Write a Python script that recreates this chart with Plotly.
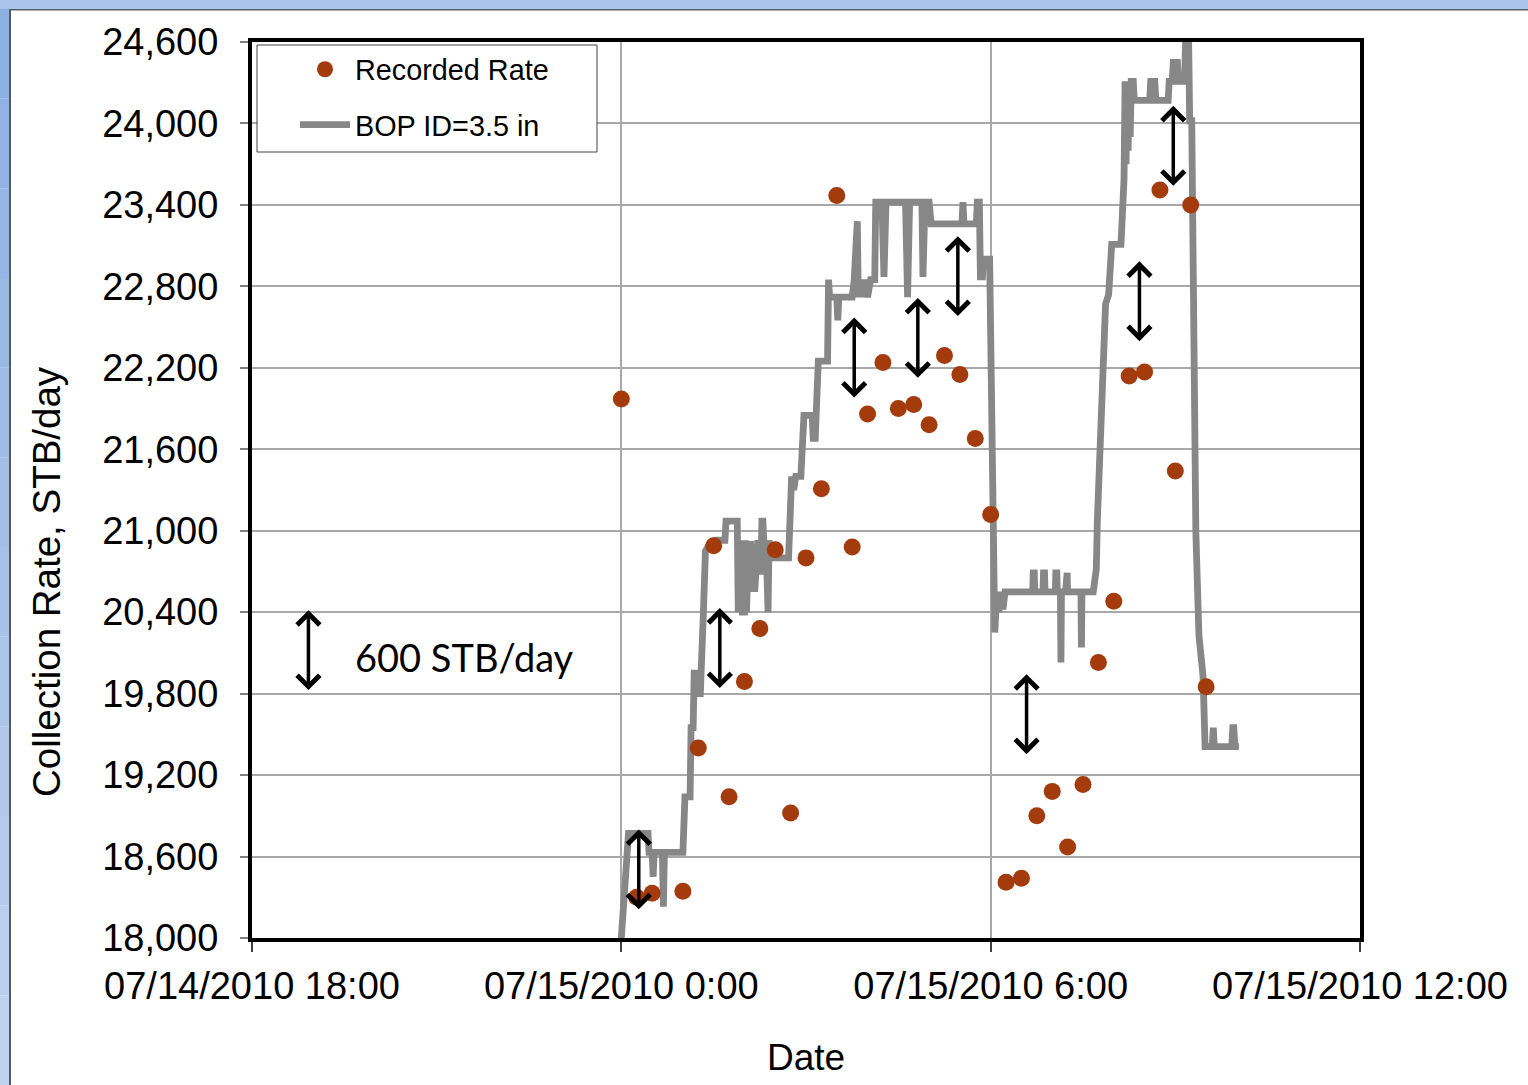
import pandas as pd
import plotly.graph_objects as go

# ---------------- data ----------------
# minutes after 07/15/2010 0:00
rec_minutes = [0, 15, 30, 60, 75, 90, 105, 120, 135, 150, 165, 180, 195, 210, 225,
               240, 255, 270, 285, 300, 315, 330, 345, 360, 375, 390, 405, 420, 435,
               450, 465, 480, 495, 510, 525, 540, 555, 570]
rec_rate = [21970, 18300, 18330, 18345, 19400, 20890, 19040, 19890, 20280, 20860,
            18920, 20800, 21310, 23470, 20880, 21860, 22240, 21900, 21930, 21780,
            22290, 22150, 21680, 21120, 18410, 18440, 18900, 19080, 18670, 19130,
            20030, 20480, 22140, 22170, 23510, 21440, 23400, 19850]

bop_minutes = [0, 7, 26, 27, 30, 31, 32, 40, 41, 42, 60, 61, 62, 67, 68, 70, 71, 73, 74, 77,
               78, 80, 82, 86, 92, 101, 102, 113, 114, 115, 116, 117, 118, 120, 121, 122,
               124, 126, 127, 129, 130, 132, 133, 134, 136, 137, 138, 139, 140, 141, 142,
               143, 144, 145, 163, 164, 166, 168, 170, 175, 176, 178, 186, 187, 189, 190,
               192, 201, 202, 203, 210, 211, 212, 225, 227, 229, 230, 231, 233, 235, 237,
               240, 243, 247, 248, 254, 256, 258, 277, 279, 281, 293, 294, 296, 300, 302,
               332, 333, 334, 346, 347, 349, 350, 352, 353, 359, 362, 364, 366, 368, 370,
               372, 374,
               401, 401.5, 402.5, 403, 411, 411.5, 412.5, 413,
               423, 423.5, 424.5, 425, 428, 428.5, 429, 433, 433.5, 434.5, 435,
               448, 448.5, 449, 460, 462, 463, 464, 467, 469,
               472, 475, 478, 487, 490, 491, 492, 493, 494, 495, 496, 497, 499, 500, 515,
               516, 520, 521, 533, 534, 537, 538, 542, 543, 549, 550, 553, 554, 556, 560,
               563, 567, 568, 569, 576, 577, 578, 595, 596, 597, 598, 602]
bop_rate = [18000, 18770, 18770, 18630, 18630, 18450, 18630, 18630, 18230, 18630, 18630,
            18900, 19040, 19040, 19550, 19550, 19950, 19950, 19800, 19800, 19950, 20400,
            20850, 20900, 20930, 20930, 21070, 21070, 20400, 20930, 20400, 20930, 20400,
            20400, 20930, 20400, 20900, 20900, 20550, 20900, 20550, 20930, 20930, 20700,
            20700, 21070, 21070, 20900, 20700, 20930, 20400, 20400, 20930, 20800, 20800,
            21100, 21400, 21300, 21400, 21400, 21700, 21850, 21850, 21680, 21680, 22000,
            22250, 22250, 22850, 22720, 22720, 22550, 22720, 22720, 22850, 23280, 23280,
            22720, 22850, 22720, 22850, 22720, 22850, 22850, 23420, 23420, 22870, 23420,
            23420, 22720, 23420, 23420, 22870, 23420, 23420, 23260, 23260, 23420, 23260,
            23260, 23420, 23420, 22870, 22870, 23000, 23000, 21000, 20250, 20550, 20400,
            20550, 20420, 20550,
            20550, 20690, 20690, 20550, 20550, 20690, 20690, 20550,
            20550, 20690, 20690, 20550, 20550, 20030, 20550, 20550, 20690, 20690, 20550,
            20550, 20140, 20550, 20550, 20690, 20720, 21080, 21670, 22100,
            22670, 22740, 23110, 23110, 23590, 24310, 23700, 24310, 23800, 24310, 23900,
            24310, 24310, 24170, 24170, 24310, 24310, 24170, 24170, 24310, 24310, 24450,
            24450, 24310, 24310, 24590, 24590, 24020, 24020, 20990, 20230, 19930, 19550,
            19410, 19410, 19550, 19410, 19410, 19550, 19550, 19410, 19410]

# 600 STB/day reference arrows: minute position and lower end
arrow_minutes = [-305, 17, 96, 227, 289, 328, 395, 505, 538]
arrow_low = [19815, 18200, 19830, 21970, 22115, 22570, 19343, 22385, 23530]
arrow_span = 600

y_ticks = list(range(18000, 24601, 600))

# ---------------- helpers ----------------
base = pd.Timestamp("2010-07-15 00:00")
def t(m):
    return base + pd.to_timedelta(m, unit="m")

W, H = 1528, 1085
ML, MR, MT, MB = 252, 168, 42, 147
PW, PH = W - ML - MR, H - MT - MB
def px_x(p):
    return (p - ML) / PW
def px_y(p):
    return (H - MB - p) / PH

FONT = "Liberation Sans, Arial, sans-serif"

fig = go.Figure()
fig.add_trace(go.Scatter(
    x=[t(m) for m in bop_minutes], y=bop_rate, mode="lines",
    name="BOP ID=3.5 in", legendgroup="b", legendrank=2,
    line=dict(color="#878787", width=6.8)))
fig.add_trace(go.Scatter(
    x=[t(m) for m in rec_minutes], y=rec_rate, mode="markers",
    name="Recorded Rate", legendgroup="a", legendrank=1,
    marker=dict(color="#a33b0c", size=17)))

annotations = []
for m, lo in zip(arrow_minutes, arrow_low):
    annotations.append(dict(
        x=t(m), y=lo + arrow_span, ax=t(m), ay=lo,
        xref="x", yref="y", axref="x", ayref="y", text="",
        showarrow=True, arrowside="end+start", arrowhead=4, startarrowhead=4,
        arrowsize=1.25, startarrowsize=1.25, arrowwidth=3.5, arrowcolor="black",
        standoff=0, startstandoff=0))
annotations.append(dict(
    x=t(-261.5), y=20070, xref="x", yref="y", text="600 STB/day",
    showarrow=False, xanchor="left", yanchor="middle",
    font=dict(family="Lato, Carlito, sans-serif", size=38, color="black")))
annotations.append(dict(
    x=px_x(46), y=px_y(582), xref="paper", yref="paper",
    text="Collection Rate, STB/day", textangle=-90, showarrow=False,
    xanchor="center", yanchor="middle",
    font=dict(family=FONT, size=38.5, color="black")))

shapes = []
# window frame decoration
shapes.append(dict(type="rect", xref="paper", yref="paper", x0=px_x(0), x1=px_x(W),
                   y0=px_y(0), y1=px_y(9), fillcolor="#a8c4ea", line=dict(width=0), layer="above"))
shapes.append(dict(type="rect", xref="paper", yref="paper", x0=px_x(9), x1=px_x(W),
                   y0=px_y(9), y1=px_y(10.5), fillcolor="#5a5f66", line=dict(width=0), layer="above"))
n = 12
c0 = (140, 176, 226)
c1 = (191, 210, 239)
for i in range(n):
    f = i / (n - 1)
    col = "rgb(%d,%d,%d)" % tuple(int(a + (b - a) * f) for a, b in zip(c0, c1))
    shapes.append(dict(type="rect", xref="paper", yref="paper", x0=px_x(0), x1=px_x(9),
                       y0=px_y(9 + (H - 9) * i / n), y1=px_y(9 + (H - 9) * (i + 1) / n),
                       fillcolor=col, line=dict(width=0), layer="above"))
shapes.append(dict(type="rect", xref="paper", yref="paper", x0=px_x(9), x1=px_x(11),
                   y0=px_y(9), y1=px_y(H), fillcolor="#505a66", line=dict(width=0), layer="above"))
# legend box
shapes.append(dict(type="rect", xref="paper", yref="paper", x0=px_x(257), x1=px_x(597),
                   y0=px_y(45), y1=px_y(152), fillcolor="white",
                   line=dict(color="#444444", width=1), layer="above"))

fig.update_layout(
    width=W, height=H,
    margin=dict(l=ML, r=MR, t=MT, b=MB, pad=0, autoexpand=False),
    plot_bgcolor="white", paper_bgcolor="white",
    font=dict(family=FONT, color="black"),
    showlegend=True,
    legend=dict(x=px_x(295), y=px_y(44), xanchor="left", yanchor="top",
                bgcolor="rgba(0,0,0,0)", borderwidth=0, itemwidth=50,
                font=dict(family=FONT, size=28.8, color="black"),
                traceorder="grouped", tracegroupgap=15),
    xaxis=dict(type="date", range=[t(-360), t(720)], automargin=False,
               tick0=t(-360), dtick=6 * 3600 * 1000, tickformat="%m/%d/%Y %-H:%M",
               showgrid=True, gridcolor="#a8a8a8", gridwidth=1.5,
               showline=True, linecolor="black", linewidth=4, mirror=True,
               ticks="outside", ticklen=10, tickwidth=1.5, tickcolor="#404040",
               tickfont=dict(family=FONT, size=38, color="black"),
               ticklabelstandoff=1,
               title=dict(text="Date", font=dict(family=FONT, size=37, color="black"),
                          standoff=40),
               zeroline=False),
    yaxis=dict(range=[18000, 24600], tickvals=y_ticks, tickformat=",d", automargin=False,
               showgrid=True, gridcolor="#a8a8a8", gridwidth=1.5,
               showline=True, linecolor="black", linewidth=4, mirror=True,
               ticks="outside", ticklen=8, tickwidth=1.5, tickcolor="#808080",
               tickfont=dict(family=FONT, size=38, color="black"),
               ticklabelstandoff=14, zeroline=False),
    annotations=annotations,
    shapes=shapes,
)

fig.write_html("out.html", config={"displayModeBar": False},
               post_script="document.body.style.margin='0';document.body.style.overflow='hidden';")
